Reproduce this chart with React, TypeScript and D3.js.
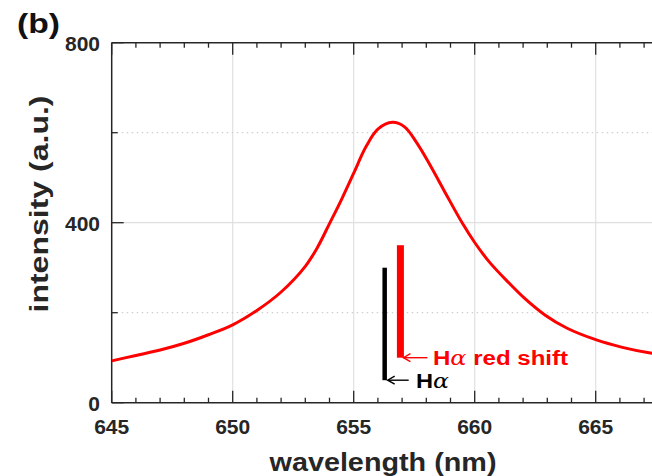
import React from "react";
import * as d3 from "d3";

const wavelength = [645, 646, 647, 648, 649, 650, 651, 652, 653, 653.5, 654, 654.5, 655, 655.5, 656, 656.6, 657.1, 657.6, 658.2, 658.8, 659.5, 660, 660.6, 661.4, 662.1, 662.9, 663.8, 665, 666.1, 667.2, 668];
const intensity = [93, 105, 117, 132, 151, 173, 205, 246, 303, 345, 398, 452, 510, 568, 608, 623, 613, 578, 524, 465, 398, 356, 313, 267, 230, 195, 166, 140, 123, 111, 106];

const xTicks = [645, 650, 655, 660, 665];
const xMinor = d3.range(645, 671, 1);
const yTicks = [0, 400, 800];
const yMinor = [200, 600];

const hAlpha = { wl: 656.28, top: 300, bottom: 50 };
const hAlphaShift = { wl: 656.93, top: 350, bottom: 100 };

export default function App() {
  const W = 652, H = 476;
  const left = 111.7, top = 42.7, bottom = 402.7;
  const x = d3.scaleLinear().domain([645, 670]).range([left, left + 25 * 24.2]);
  const y = d3.scaleLinear().domain([0, 800]).range([bottom, top]);
  const pts = wavelength.map((w, i) => [x(w), y(intensity[i])] as [number, number]);
  const line = d3.line().curve(d3.curveCatmullRom.alpha(0.5))(pts) || "";
  const axisColor = "#262626";
  const font = "'Liberation Sans', Arial, sans-serif";
  const xr = x(670);

  return (
    <svg width={W} height={H} style={{ position: "absolute", left: 0, top: 0, background: "#fff" }} fontFamily={font}>
      <defs>
        <clipPath id="plot">
          <rect x={left} y={top} width={xr - left} height={bottom - top} />
        </clipPath>
      </defs>
      {/* grid */}
      {xTicks.slice(1).map((t) => (
        <line key={"gx" + t} x1={x(t)} x2={x(t)} y1={top} y2={bottom} stroke="#e0e0e0" strokeWidth={1.2} />
      ))}
      <line x1={left} x2={xr} y1={y(400)} y2={y(400)} stroke="#e0e0e0" strokeWidth={1.2} />
      {yMinor.map((t) => (
        <line key={"gy" + t} x1={left} x2={xr} y1={y(t)} y2={y(t)} stroke="#cfcfcf" strokeWidth={1.2} strokeDasharray="1.5,3.5" />
      ))}
      {/* axes */}
      <line x1={left} x2={xr} y1={bottom} y2={bottom} stroke={axisColor} strokeWidth={1.5} />
      <line x1={left} x2={xr} y1={top} y2={top} stroke={axisColor} strokeWidth={1.5} />
      <line x1={left} x2={left} y1={top} y2={bottom} stroke={axisColor} strokeWidth={1.5} />
      {xMinor.map((t) => {
        const major = xTicks.includes(t);
        const len = major ? 12 : 5;
        return (
          <g key={"xt" + t}>
            <line x1={x(t)} x2={x(t)} y1={bottom} y2={bottom - len} stroke={axisColor} strokeWidth={1.3} />
            <line x1={x(t)} x2={x(t)} y1={top} y2={top + len} stroke={axisColor} strokeWidth={1.3} />
          </g>
        );
      })}
      {yTicks.map((t) => (
        <line key={"yt" + t} x1={left} x2={left + 12} y1={y(t)} y2={y(t)} stroke={axisColor} strokeWidth={1.3} />
      ))}
      {yMinor.map((t) => (
        <line key={"ym" + t} x1={left} x2={left + 6} y1={y(t)} y2={y(t)} stroke={axisColor} strokeWidth={1.3} />
      ))}
      {/* tick labels */}
      {xTicks.map((t) => (
        <text key={"xl" + t} x={x(t)} y={434} textAnchor="middle" fontSize={21} fontWeight="bold" fill={axisColor}>
          {t}
        </text>
      ))}
      {yTicks.map((t) => (
        <text key={"yl" + t} x={100} y={y(t) + 8} textAnchor="end" fontSize={21} fontWeight="bold" fill={axisColor}>
          {t}
        </text>
      ))}
      {/* axis titles */}
      <text x={383} y={471} textAnchor="middle" fontSize={25} fontWeight="bold" fill={axisColor} textLength={227} lengthAdjust="spacingAndGlyphs">
        wavelength (nm)
      </text>
      <text transform={`translate(48,${204}) rotate(-90)`} textAnchor="middle" fontSize={25} fontWeight="bold" fill={axisColor} textLength={217} lengthAdjust="spacingAndGlyphs">
        intensity (a.u.)
      </text>
      <text x={17} y={33} fontSize={27} fontWeight="bold" fill="#111" textLength={43} lengthAdjust="spacingAndGlyphs">
        (b)
      </text>
      {/* curve */}
      <g clipPath="url(#plot)">
        <path d={line} fill="none" stroke="#ff0000" strokeWidth={3} strokeLinejoin="round" />
      </g>
      {/* marker lines */}
      <line x1={x(hAlpha.wl)} x2={x(hAlpha.wl)} y1={y(hAlpha.top)} y2={y(hAlpha.bottom)} stroke="#000" strokeWidth={4.5} />
      <line x1={x(hAlphaShift.wl)} x2={x(hAlphaShift.wl)} y1={y(hAlphaShift.top)} y2={y(hAlphaShift.bottom)} stroke="#ff0000" strokeWidth={7} />
      {/* arrows */}
      <g stroke="#ff0000" strokeWidth={1.4} fill="none">
        <line x1={x(hAlphaShift.wl) + 3} x2={x(hAlphaShift.wl) + 27} y1={y(hAlphaShift.bottom)} y2={y(hAlphaShift.bottom)} />
        <polyline points={`${x(hAlphaShift.wl) + 10},${y(hAlphaShift.bottom) - 4} ${x(hAlphaShift.wl) + 3},${y(hAlphaShift.bottom)} ${x(hAlphaShift.wl) + 10},${y(hAlphaShift.bottom) + 4}`} />
      </g>
      <g stroke="#000" strokeWidth={1.4} fill="none">
        <line x1={x(hAlpha.wl) + 3} x2={x(hAlpha.wl) + 24} y1={y(hAlpha.bottom)} y2={y(hAlpha.bottom)} />
        <polyline points={`${x(hAlpha.wl) + 10},${y(hAlpha.bottom) - 4} ${x(hAlpha.wl) + 3},${y(hAlpha.bottom)} ${x(hAlpha.wl) + 10},${y(hAlpha.bottom) + 4}`} />
      </g>
      <text x={433} y={y(hAlphaShift.bottom) + 7} fontSize={20} fontWeight="bold" fill="#ff0000" textLength={135} lengthAdjust="spacingAndGlyphs">
        H<tspan fontFamily="'DejaVu Serif', serif" fontStyle="italic" fontWeight="normal">α</tspan> red shift
      </text>
      <text x={416} y={y(hAlpha.bottom) + 8} fontSize={20} fontWeight="bold" fill="#000" textLength={33} lengthAdjust="spacingAndGlyphs">
        H<tspan fontFamily="'DejaVu Serif', serif" fontStyle="italic" fontWeight="normal">α</tspan>
      </text>
    </svg>
  );
}
